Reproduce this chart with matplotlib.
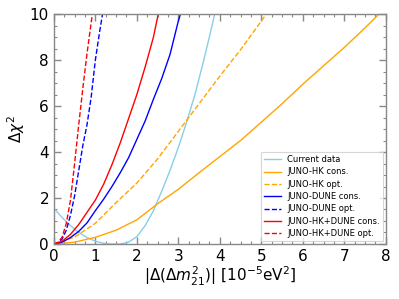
import numpy as np
import matplotlib
matplotlib.use("Agg")
import matplotlib.pyplot as plt
from matplotlib.ticker import MultipleLocator

# values: |Δ(Δm²21)| [1e-5 eV²] vs Δχ²
cur_x = [0, 0.2, 0.4, 0.6, 0.8, 1.0, 1.2, 1.4, 1.6, 1.8, 2.0, 2.2, 2.4, 2.6, 2.8, 3.0, 3.2, 3.4, 3.6, 3.8, 3.9]
cur_y = [1.55, 1.15, 0.8, 0.5, 0.28, 0.12, 0.03, 0.0, 0.0, 0.08, 0.32, 0.8, 1.45, 2.3, 3.2, 4.2, 5.3, 6.5, 7.9, 9.4, 10.2]

hk_cons_x = [0, 0.5, 1.0, 1.5, 2.0, 2.5, 3.0, 3.5, 4.0, 4.5, 5.0, 5.5, 6.0, 6.5, 7.0, 7.5, 8.0]
hk_cons_y = [0, 0.08, 0.29, 0.6, 1.05, 1.75, 2.38, 3.1, 3.8, 4.5, 5.3, 6.1, 6.95, 7.75, 8.55, 9.4, 10.3]

hk_opt_x = [0, 0.5, 1.0, 1.5, 2.0, 2.5, 3.0, 3.5, 4.0, 4.5, 5.0, 5.2]
hk_opt_y = [0, 0.3, 0.9, 1.8, 2.65, 3.7, 4.9, 6.1, 7.3, 8.45, 9.7, 10.2]

dune_cons_x = [0, 0.2, 0.4, 0.6, 0.8, 1.0, 1.2, 1.4, 1.6, 1.8, 2.0, 2.2, 2.4, 2.6, 2.8, 3.0, 3.1]
dune_cons_y = [0, 0.08, 0.28, 0.55, 0.92, 1.45, 1.95, 2.5, 3.1, 3.75, 4.55, 5.35, 6.3, 7.2, 8.25, 9.7, 10.3]

dune_opt_x = [0, 0.1, 0.2, 0.3, 0.4, 0.5, 0.6, 0.7, 0.8, 0.9, 1.0, 1.1, 1.2]
dune_opt_y = [0, 0.05, 0.22, 0.6, 1.25, 2.1, 3.2, 4.3, 5.2, 6.4, 8.0, 9.2, 10.3]

comb_cons_x = [0, 0.2, 0.4, 0.6, 0.8, 1.0, 1.2, 1.4, 1.6, 1.8, 2.0, 2.2, 2.4, 2.55]
comb_cons_y = [0, 0.12, 0.42, 0.85, 1.38, 1.91, 2.6, 3.45, 4.4, 5.45, 6.5, 7.7, 9.0, 10.3]

comb_opt_x = [0, 0.1, 0.2, 0.3, 0.4, 0.5, 0.6, 0.7, 0.8, 0.95]
comb_opt_y = [0, 0.07, 0.3, 0.9, 1.9, 3.5, 5.2, 6.8, 8.3, 10.3]

fig = plt.figure(figsize=(3.99, 2.99), dpi=100)
ax = fig.add_axes([0.135, 0.184, 0.832, 0.769])

lw = 1.0
ax.plot(cur_x, cur_y, color="skyblue", lw=lw, label="Current data")
ax.plot(hk_cons_x, hk_cons_y, color="orange", lw=lw, label="JUNO-HK cons.")
ax.plot(hk_opt_x, hk_opt_y, color="orange", lw=lw, ls="--", label="JUNO-HK opt.")
ax.plot(dune_cons_x, dune_cons_y, color="blue", lw=lw, label="JUNO-DUNE cons.")
ax.plot(dune_opt_x, dune_opt_y, color="blue", lw=lw, ls="--", label="JUNO-DUNE opt.")
ax.plot(comb_cons_x, comb_cons_y, color="red", lw=lw, label="JUNO-HK+DUNE cons.")
ax.plot(comb_opt_x, comb_opt_y, color="red", lw=lw, ls="--", label="JUNO-HK+DUNE opt.")

ax.set_xlim(0, 8)
ax.set_ylim(0, 10)
ax.xaxis.set_major_locator(MultipleLocator(1))
ax.xaxis.set_minor_locator(MultipleLocator(0.25))
ax.yaxis.set_major_locator(MultipleLocator(2))
ax.yaxis.set_minor_locator(MultipleLocator(0.5))
ax.tick_params(which="both", direction="in", top=True, right=True,
               color="#888888", labelsize=11)
ax.tick_params(which="major", length=5, width=1.0)
ax.tick_params(which="minor", length=2.5, width=0.8)
for s in ax.spines.values():
    s.set_color("#888888")
    s.set_linewidth(1.0)

ax.set_xlabel(r"$|\Delta(\Delta m^2_{21})|$ [$10^{-5}$eV$^2$]", fontsize=11, labelpad=1)
ax.set_ylabel(r"$\Delta\chi^2$", fontsize=11, labelpad=2)

leg = ax.legend(loc="lower right", fontsize=6, frameon=True, fancybox=False,
                borderaxespad=0.3, labelspacing=0.4, handlelength=2.0)
leg.get_frame().set_edgecolor("#cccccc")
leg.get_frame().set_linewidth(0.8)

fig.savefig("out.png", dpi=100)
